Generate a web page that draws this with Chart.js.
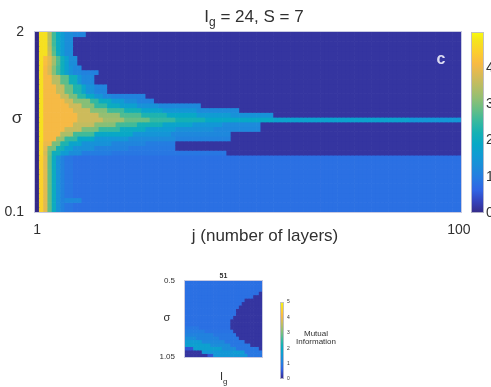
<!DOCTYPE html>
<html>
<head>
<meta charset="utf-8">
<script src="https://cdn.jsdelivr.net/npm/chart.js@4/dist/chart.umd.min.js"></script>
<style>
  html, body { margin: 0; padding: 0; background: #fff; }
  #wrap { position: relative; width: 491px; height: 387px; }
  #wrap canvas { position: absolute; left: 0; top: 0; }
</style>
</head>
<body>
<div id="wrap">
  <canvas id="mainChart" width="491" height="387"></canvas>
  <canvas id="insetChart" width="491" height="387"></canvas>
</div>
<script>
// ---- main panel: mutual information vs layer j and sigma ----
const layerCount = 100;            // j = 1..100
const sigmaMin = 0.1, sigmaMax = 2, sigmaStep = 0.05;
const xTicks = [1, 100];
const yTicks = [0.1, 2];
const cbarTicks = [0, 1, 2, 3, 4];
const miMax = 5;

// each row: runs of [value, last j of run], listed from sigma = 2 (top) down to 0.1
const miRows = [
  [[0,1],[4.7,3],[3.5,4],[2.6,5],[2.0,6],[1.6,7],[1.3,9],[1.15,12],[0.15,100]],
  [[0,1],[4.7,3],[3.5,4],[2.6,5],[2.0,6],[1.6,7],[1.3,9],[0.15,100]],
  [[0,1],[4.7,3],[3.5,4],[2.6,5],[2.0,6],[1.6,7],[1.3,9],[0.15,100]],
  [[0,1],[4.7,3],[3.6,4],[2.7,5],[2.0,6],[1.6,7],[1.3,9],[0.15,100]],
  [[0,1],[4.7,3],[3.7,4],[2.8,5],[2.1,6],[1.6,7],[1.3,9],[0.15,100]],
  [[0,1],[4.7,2],[4.2,3],[3.9,4],[3.3,5],[2.7,6],[2.1,7],[1.7,8],[1.3,10],[0.15,100]],
  [[0,1],[4.7,2],[4.2,3],[3.9,4],[3.3,5],[2.7,6],[2.1,7],[1.7,8],[1.3,10],[0.15,100]],
  [[0,1],[4.7,2],[4.1,3],[3.8,4],[3.1,5],[2.6,6],[2.1,7],[1.7,8],[1.4,9],[1.2,11],[0.15,100]],
  [[0,1],[4.7,2],[4.1,3],[3.8,4],[3.1,5],[2.6,6],[2.1,7],[1.7,8],[1.4,9],[1.2,11],[1.1,15],[0.15,100]],
  [[0,1],[4.7,2],[4.1,4],[3.5,6],[2.8,8],[2.1,10],[1.5,11],[1.2,14],[0.15,100]],
  [[0,1],[4.7,2],[4.1,4],[3.5,6],[2.8,8],[2.1,10],[1.5,11],[1.2,14],[0.15,100]],
  [[0,1],[4.7,2],[4.1,5],[3.6,7],[2.9,9],[2.3,11],[1.8,12],[1.4,14],[1.15,17],[0.15,100]],
  [[0,1],[4.7,2],[4.1,5],[3.6,7],[2.9,9],[2.3,11],[1.8,12],[1.4,14],[1.15,17],[0.15,100]],
  [[0,1],[4.7,2],[4.1,6],[3.6,8],[3.0,10],[2.4,12],[1.9,14],[1.5,16],[1.2,18],[1.1,26],[0.15,100]],
  [[0,1],[4.7,2],[4.1,7],[3.7,9],[3.1,13],[2.5,15],[2.0,18],[1.6,21],[1.3,24],[1.1,28],[0.15,100]],
  [[0,1],[4.7,2],[4.1,8],[3.7,11],[3.1,14],[2.5,17],[2.0,20],[1.7,24],[1.4,29],[1.2,39],[0.15,100]],
  [[0,1],[4.7,2],[4.1,9],[3.7,13],[3.1,17],[2.6,21],[2.2,25],[1.8,30],[1.5,38],[1.25,48],[0.15,100]],
  [[0,1],[4.7,2],[4.1,10],[3.7,15],[3.2,20],[2.7,25],[2.3,31],[1.9,38],[1.6,46],[1.4,56],[0.15,100]],
  [[0,1],[4.7,2],[4.1,10],[3.7,16],[3.3,21],[2.9,27],[2.5,33],[2.2,40],[1.9,56],[1.75,88],[1.5,100]],
  [[0,1],[4.7,2],[4.1,9],[3.6,14],[3.1,19],[2.6,24],[2.2,30],[1.8,37],[1.5,44],[1.25,53],[0.15,100]],
  [[0,1],[4.7,2],[4.1,7],[3.6,11],[3.0,15],[2.5,20],[2.0,26],[1.6,33],[1.35,42],[1.2,53],[0.15,100]],
  [[0,1],[4.7,2],[4.1,6],[3.4,9],[2.6,14],[1.9,23],[1.45,32],[1.2,46],[0.15,100]],
  [[0,1],[4.7,2],[4.1,5],[3.2,7],[2.5,10],[1.9,14],[1.5,22],[1.25,33],[1.1,46],[0.15,100]],
  [[0,1],[4.6,2],[4.0,4],[3.0,6],[2.3,8],[1.8,11],[1.4,18],[1.15,26],[1.0,33],[0.15,100]],
  [[0,1],[4.6,2],[3.9,3],[3.0,5],[2.2,7],[1.7,9],[1.35,14],[1.1,22],[0.95,33],[0.15,100]],
  [[0,1],[4.6,2],[3.8,3],[2.9,4],[2.1,6],[1.6,8],[1.3,11],[1.0,18],[0.9,45],[0.15,100]],
  [[0,1],[4.5,2],[3.9,3],[2.8,4],[2.0,5],[1.4,6],[1.1,7],[0.9,9],[0.8,100]],
  [[0,1],[4.5,2],[3.9,3],[2.8,4],[2.0,5],[1.4,6],[1.1,7],[0.9,9],[0.8,100]],
  [[0,1],[4.5,2],[3.9,3],[2.8,4],[2.0,5],[1.4,6],[1.1,7],[0.9,9],[0.8,100]],
  [[0,1],[4.5,2],[3.9,3],[2.8,4],[2.0,5],[1.4,6],[1.1,7],[0.9,9],[0.8,100]],
  [[0,1],[4.5,2],[3.9,3],[2.8,4],[2.0,5],[1.4,6],[1.1,7],[0.9,9],[0.8,100]],
  [[0,1],[4.5,2],[3.9,3],[2.8,4],[2.0,5],[1.4,6],[1.1,7],[0.9,9],[0.8,100]],
  [[0,1],[4.5,2],[3.9,3],[2.8,4],[2.0,5],[1.4,6],[1.1,7],[0.9,9],[0.8,100]],
  [[0,1],[4.5,2],[3.9,3],[2.8,4],[2.0,5],[1.4,6],[1.1,7],[0.9,9],[0.8,100]],
  [[0,1],[4.5,2],[3.9,3],[2.8,4],[2.0,5],[1.4,6],[1.1,7],[0.9,9],[0.8,100]],
  [[0,1],[4.5,2],[3.9,3],[2.8,4],[2.0,5],[1.4,6],[1.1,7],[1.2,11],[0.8,100]],
  [[0,1],[4.5,2],[3.9,3],[2.8,4],[2.0,5],[1.4,6],[1.1,7],[0.9,9],[0.8,100]],
  [[0,1],[4.5,2],[3.9,3],[2.8,4],[2.0,5],[1.4,6],[1.1,7],[0.9,9],[0.8,100]]
];

// ---- inset: j = 51, l_g = 14..27 (half steps), sigma 0.5..1.05 ----
const lgMin = 14, lgMax = 27, lgStep = 0.5;
const insetSigmaMin = 0.5, insetSigmaMax = 1.05, insetSigmaStep = 0.025;
const insetXTicks = [14, 27];
const insetYTicks = [0.5, 1.05];
const insetCbarTicks = [0, 1, 2, 3, 4, 5];
// runs of [value, last column index], from sigma 0.5 (top) to 1.05 (bottom)
const insetRows = [
  [[0.8,26]],
  [[0.8,26]],
  [[0.8,26]],
  [[0.8,25],[0.15,26]],
  [[0.8,23],[0.15,26]],
  [[0.8,20],[0.15,26]],
  [[0.8,19],[0.15,26]],
  [[0.8,18],[0.15,26]],
  [[0.8,17],[0.15,26]],
  [[0.8,17],[0.15,26]],
  [[0.8,16],[0.15,26]],
  [[0.8,15],[0.15,26]],
  [[0.8,15],[0.15,26]],
  [[0.9,4],[0.8,15],[0.15,26]],
  [[1.0,6],[0.85,16],[0.15,26]],
  [[1.1,9],[0.9,17],[0.15,26]],
  [[1.3,3],[1.1,11],[0.9,18],[0.15,26]],
  [[1.6,5],[1.2,13],[0.9,20],[0.15,26]],
  [[1.7,8],[1.3,15],[0.9,22],[0.15,26]],
  [[0.5,2],[1.7,12],[1.3,17],[0.9,25],[0.15,26]],
  [[0.15,5],[1.5,16],[1.6,20],[0.9,26]],
  [[0.15,7],[0.5,9],[1.5,21],[0.9,26]]
];

const textColor = '#303030';
const fontFamily = '"Liberation Sans", Arial, Helvetica, sans-serif';

// parula-like colormap (blue end tuned to the picture)
const parula = [
  [0.000, [53,42,135]], [0.063, [52,66,188]], [0.127, [48,100,228]], [0.190, [38,122,226]],
  [0.254, [28,140,218]], [0.317, [16,155,212]], [0.381, [8,168,198]], [0.444, [21,177,180]],
  [0.508, [56,185,158]], [0.571, [101,190,134]], [0.635, [146,191,115]], [0.698, [183,189,100]],
  [0.762, [217,186,86]], [0.825, [248,186,68]], [0.889, [252,206,46]], [0.952, [245,228,29]],
  [1.000, [249,251,14]]
];
function colorAt(t) {
  t = Math.max(0, Math.min(1, t));
  for (let i = 1; i < parula.length; i++) {
    if (t <= parula[i][0]) {
      const a = parula[i - 1], b = parula[i];
      const f = (t - a[0]) / (b[0] - a[0]);
      const c = a[1].map((v, k) => Math.round(v + (b[1][k] - v) * f));
      return 'rgb(' + c.join(',') + ')';
    }
  }
  return 'rgb(249,251,14)';
}
function expandRuns(runs, n, first) {
  const out = [];
  let col = first;
  runs.forEach(([v, last]) => { while (col <= last && out.length < n) { out.push(v); col++; } });
  return out;
}

// build main datasets: one floating-bar dataset per sigma row
const rowCount = miRows.length;
const mainDatasets = miRows.map((runs, r) => {
  const k = rowCount - 1 - r;  // 0 = bottom row
  const lo = sigmaMin + k * sigmaStep, hi = lo + sigmaStep;
  const vals = expandRuns(runs, layerCount, 1);
  return {
    data: vals.map((v, i) => ({ x: i + 1, y: [lo, hi] })),
    backgroundColor: vals.map(v => colorAt(v / miMax))
  };
});

const insetCols = Math.round((lgMax - lgMin) / lgStep) + 1;
const insetDatasets = insetRows.map((runs, r) => {
  const lo = insetSigmaMin + r * insetSigmaStep, hi = lo + insetSigmaStep;
  const vals = expandRuns(runs, insetCols, 0);
  return {
    data: vals.map((v, c) => ({ x: lgMin + c * lgStep, y: [lo, hi] })),
    backgroundColor: vals.map(v => colorAt(v / miMax))
  };
});

function drawColorbar(ctx, x, top, w, h) {
  const g = ctx.createLinearGradient(0, top + h, 0, top);
  parula.forEach(([t, c]) => g.addColorStop(t, 'rgb(' + c.join(',') + ')'));
  ctx.fillStyle = g;
  ctx.fillRect(x, top, w, h);
  ctx.strokeStyle = 'rgba(190,190,205,0.9)';
  ctx.lineWidth = 1;
  ctx.strokeRect(x + 0.5, top + 0.5, w - 1, h - 1);
}

const mainDecor = {
  id: 'mainDecor',
  afterDraw(chart) {
    const { ctx, chartArea: a } = chart;
    ctx.save();
    ctx.strokeStyle = 'rgba(200,202,225,1)';
    ctx.lineWidth = 1;
    ctx.strokeRect(a.left - 0.5, a.top - 0.5, a.right - a.left + 1, a.bottom - a.top + 1);

    // colorbar
    const cbX = a.right + 10, cbTop = a.top, cbH = a.bottom - a.top + 1;
    drawColorbar(ctx, cbX, cbTop, 13, cbH);
    ctx.fillStyle = textColor;
    ctx.font = '14px ' + fontFamily;
    ctx.textAlign = 'left';
    ctx.textBaseline = 'middle';
    cbarTicks.forEach(v => {
      ctx.fillText(String(v), cbX + 15, cbTop + cbH - v / miMax * cbH);
    });

    // title with subscript
    ctx.textBaseline = 'alphabetic';
    ctx.font = '17px ' + fontFamily;
    const wI = ctx.measureText('I').width;
    const rest = ' = 24, S = 7';
    const wRest = ctx.measureText(rest).width;
    ctx.font = '12px ' + fontFamily;
    const wg = ctx.measureText('g').width;
    let tx = 254 - (wI + wg + wRest) / 2;
    ctx.font = '17px ' + fontFamily;
    ctx.fillText('I', tx, 22);
    ctx.font = '12px ' + fontFamily;
    ctx.fillText('g', tx + wI, 26);
    ctx.font = '17px ' + fontFamily;
    ctx.fillText(rest, tx + wI + wg, 22);

    // axis labels
    ctx.font = '17px ' + fontFamily;
    ctx.textAlign = 'center';
    ctx.textBaseline = 'middle';
    ctx.fillText('σ', 17, 118);
    ctx.fillText('j (number of layers)', 265, 236);

    // panel letter
    ctx.fillStyle = '#dcdcf2';
    ctx.font = 'bold 16px ' + fontFamily;
    ctx.fillText('c', 441, 60);
    ctx.restore();
  }
};

const insetDecor = {
  id: 'insetDecor',
  afterDraw(chart) {
    const { ctx, chartArea: a } = chart;
    ctx.save();
    ctx.strokeStyle = 'rgba(200,202,225,1)';
    ctx.lineWidth = 1;
    ctx.strokeRect(a.left - 0.5, a.top - 0.5, a.right - a.left + 1, a.bottom - a.top + 1);

    ctx.fillStyle = textColor;
    ctx.textAlign = 'center';
    ctx.textBaseline = 'alphabetic';
    ctx.font = 'bold 7px ' + fontFamily;
    ctx.fillText('51', (a.left + a.right) / 2, a.top - 3);

    ctx.font = '11px ' + fontFamily;
    ctx.textBaseline = 'middle';
    ctx.fillText('σ', 167, 318);

    // l_g axis title
    ctx.textBaseline = 'alphabetic';
    ctx.font = '11px ' + fontFamily;
    const wI = ctx.measureText('I').width;
    ctx.textAlign = 'left';
    ctx.fillText('I', 220, 380);
    ctx.font = '8px ' + fontFamily;
    ctx.fillText('g', 220 + wI, 384);

    // colorbar
    const cbX = 280, cbTop = 302, cbH = 77;
    drawColorbar(ctx, cbX, cbTop, 4, cbH);
    ctx.fillStyle = textColor;
    ctx.font = '5px ' + fontFamily;
    ctx.textBaseline = 'middle';
    insetCbarTicks.forEach(v => {
      ctx.fillText(String(v), cbX + 7, cbTop + cbH - v / miMax * cbH);
    });

    ctx.font = '8px ' + fontFamily;
    ctx.textAlign = 'center';
    ctx.fillText('Mutual', 316, 334);
    ctx.fillText('Information', 316, 342);
    ctx.restore();
  }
};

function fixedTicks(values) {
  return scale => { scale.ticks = values.map(v => ({ value: v })); };
}

const mainChartConfig = {
  type: 'bar',
  data: { datasets: mainDatasets },
  options: {
    responsive: false,
    animation: false,
    events: [],
    layout: { padding: { left: 0, top: 32, right: 30, bottom: 143 } },
    plugins: { legend: { display: false }, tooltip: { enabled: false }, title: { display: false } },
    datasets: { bar: { grouped: false, barPercentage: 1, categoryPercentage: 1, borderWidth: 0 } },
    scales: {
      x: {
        type: 'linear', min: 0.5, max: layerCount + 0.5, offset: false,
        afterBuildTicks: fixedTicks(xTicks),
        afterFit: s => { s.height = 32; },
        grid: { display: false }, border: { display: false },
        ticks: { color: textColor, font: { size: 14, family: fontFamily }, padding: 2, maxRotation: 0, autoSkip: false, callback: v => String(v) }
      },
      y: {
        type: 'linear', min: sigmaMin, max: sigmaMax,
        afterBuildTicks: fixedTicks(yTicks),
        afterFit: s => { s.width = 35; },
        grid: { display: false }, border: { display: false },
        ticks: { color: textColor, font: { size: 14, family: fontFamily }, padding: 3, autoSkip: false, callback: v => String(v) }
      }
    }
  },
  plugins: [mainDecor]
};

const insetChartConfig = {
  type: 'bar',
  data: { datasets: insetDatasets },
  options: {
    responsive: false,
    animation: false,
    events: [],
    layout: { padding: { left: 155, top: 281, right: 229, bottom: 18 } },
    plugins: { legend: { display: false }, tooltip: { enabled: false } },
    datasets: { bar: { grouped: false, barPercentage: 1, categoryPercentage: 1, borderWidth: 0 } },
    scales: {
      x: {
        type: 'linear', min: lgMin - lgStep / 2, max: lgMax + lgStep / 2, offset: false,
        afterBuildTicks: fixedTicks(insetXTicks),
        afterFit: s => { s.height = 12; },
        grid: { display: false }, border: { display: false },
        ticks: { color: textColor, font: { size: 9, family: fontFamily }, padding: 2, maxRotation: 0, autoSkip: false, callback: v => String(v) }
      },
      y: {
        type: 'linear', min: insetSigmaMin, max: insetSigmaMax, reverse: true,
        afterBuildTicks: fixedTicks(insetYTicks),
        afterFit: s => { s.width = 30; },
        grid: { display: false }, border: { display: false },
        ticks: { color: textColor, font: { size: 8, family: fontFamily }, padding: 2, autoSkip: false, callback: v => String(v) }
      }
    }
  },
  plugins: [insetDecor]
};

function myLoadFunction() {
  new Chart(document.getElementById('mainChart'), mainChartConfig);
  new Chart(document.getElementById('insetChart'), insetChartConfig);
}
document.addEventListener('DOMContentLoaded', myLoadFunction);
</script>
</body>
</html>
